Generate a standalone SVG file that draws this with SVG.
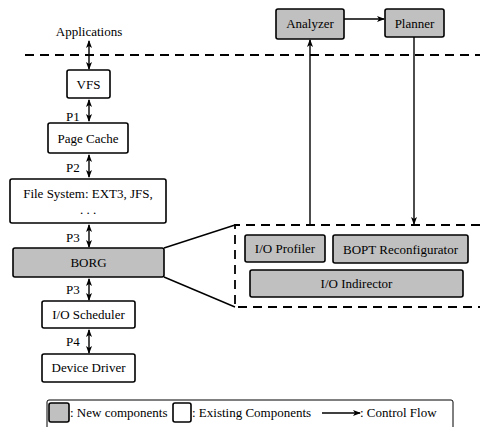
<svg xmlns="http://www.w3.org/2000/svg" width="480" height="427" viewBox="0 0 480 427">
<style>
text{font-family:"Liberation Serif","Times New Roman",serif;font-size:13px;fill:#000}
.c{text-anchor:middle}
.box{fill:#fff;stroke:#000;stroke-width:1.6}
.new{fill:#c0c0c0;stroke:#000;stroke-width:1.6}
.ln{stroke:#000;stroke-width:1.4;fill:none}
.dash{stroke:#000;stroke-width:1.8;fill:none;stroke-dasharray:9,6}
</style>
<defs>
<marker id="ah" markerWidth="8" markerHeight="6" refX="7" refY="3" orient="auto" markerUnits="userSpaceOnUse">
<path d="M0,0 L8,3 L0,6 L2,3 Z" fill="#000"/>
</marker>
<marker id="as" markerWidth="8" markerHeight="6" refX="1" refY="3" orient="auto" markerUnits="userSpaceOnUse">
<path d="M8,0 L0,3 L8,6 L6,3 Z" fill="#000"/>
</marker>
</defs>
<rect width="480" height="427" fill="#fff"/>
<g id="boundary">
<line class="dash" x1="25" y1="55" x2="480" y2="55"/>
<path class="dash" d="M480,225 H235 V307 H480"/>
</g>
<text class="c" x="89" y="36">Applications</text>
<g id="connectors">
<line class="ln" x1="89" y1="41" x2="89" y2="69" marker-start="url(#as)" marker-end="url(#ah)"/>
<line class="ln" x1="89" y1="100" x2="89" y2="121" marker-start="url(#as)" marker-end="url(#ah)"/>
<line class="ln" x1="89" y1="155" x2="89" y2="177" marker-start="url(#as)" marker-end="url(#ah)"/>
<line class="ln" x1="89" y1="225" x2="89" y2="247" marker-start="url(#as)" marker-end="url(#ah)"/>
<line class="ln" x1="89" y1="279" x2="89" y2="300" marker-start="url(#as)" marker-end="url(#ah)"/>
<line class="ln" x1="89" y1="330" x2="89" y2="353" marker-start="url(#as)" marker-end="url(#ah)"/>
<line class="ln" x1="164" y1="248" x2="235" y2="225"/>
<line class="ln" x1="164" y1="277" x2="235" y2="307"/>
<line class="ln" x1="344" y1="19" x2="384" y2="19" marker-end="url(#ah)"/>
<line class="ln" x1="310" y1="224" x2="310" y2="40" marker-end="url(#ah)"/>
<line class="ln" x1="414" y1="37" x2="414" y2="224" marker-end="url(#ah)"/>
</g>
<text x="66" y="121">P1</text>
<text x="66" y="172">P2</text>
<text x="66" y="242">P3</text>
<text x="66" y="294">P3</text>
<text x="66" y="346">P4</text>
<g id="vfs"><rect class="box" x="67" y="70" width="43" height="28" rx="2"/><text class="c" x="88.5" y="89">VFS</text></g>
<g id="pagecache"><rect class="box" x="48" y="123" width="80" height="30" rx="2"/><text class="c" x="88" y="143">Page Cache</text></g>
<g id="filesystem"><rect class="box" x="10" y="179" width="156" height="44" rx="2"/><text class="c" x="88" y="198">File System: EXT3, JFS,</text><text class="c" x="88" y="214">. . .</text></g>
<g id="borg"><rect class="new" x="13" y="248" width="151" height="29" rx="2"/><text class="c" x="88.5" y="267">BORG</text></g>
<g id="ioscheduler"><rect class="box" x="42" y="301" width="93" height="27" rx="2"/><text class="c" x="88.5" y="319">I/O Scheduler</text></g>
<g id="devicedriver"><rect class="box" x="42" y="354" width="93" height="28" rx="2"/><text class="c" x="88.5" y="372">Device Driver</text></g>
<g id="analyzer"><rect class="new" x="276" y="9" width="68" height="30" rx="2"/><text class="c" x="310" y="28">Analyzer</text></g>
<g id="planner"><rect class="new" x="385" y="9" width="59" height="28" rx="2"/><text class="c" x="414.5" y="28">Planner</text></g>
<g id="ioprofiler"><rect class="new" x="245" y="235" width="80" height="27" rx="2"/><text class="c" x="285" y="253">I/O Profiler</text></g>
<g id="bopt"><rect class="new" x="333" y="235" width="135" height="28" rx="2"/><text class="c" x="400.5" y="254">BOPT Reconfigurator</text></g>
<g id="ioindirector"><rect class="new" x="250" y="270" width="213" height="27" rx="2"/><text class="c" x="356.5" y="288">I/O Indirector</text></g>
<g id="legend">
<rect x="47" y="400" width="406" height="32" rx="2" fill="#fff" stroke="#000" stroke-width="1"/>
<rect class="new" x="49" y="403" width="20" height="19" rx="2"/>
<text x="70" y="417">: New components</text>
<rect class="box" x="173" y="403" width="18" height="19" rx="2"/>
<text x="192" y="417">: Existing Components</text>
<line class="ln" x1="322" y1="413" x2="360" y2="413" marker-end="url(#ah)"/>
<text x="360" y="417">: Control Flow</text>
</g>
</svg>
